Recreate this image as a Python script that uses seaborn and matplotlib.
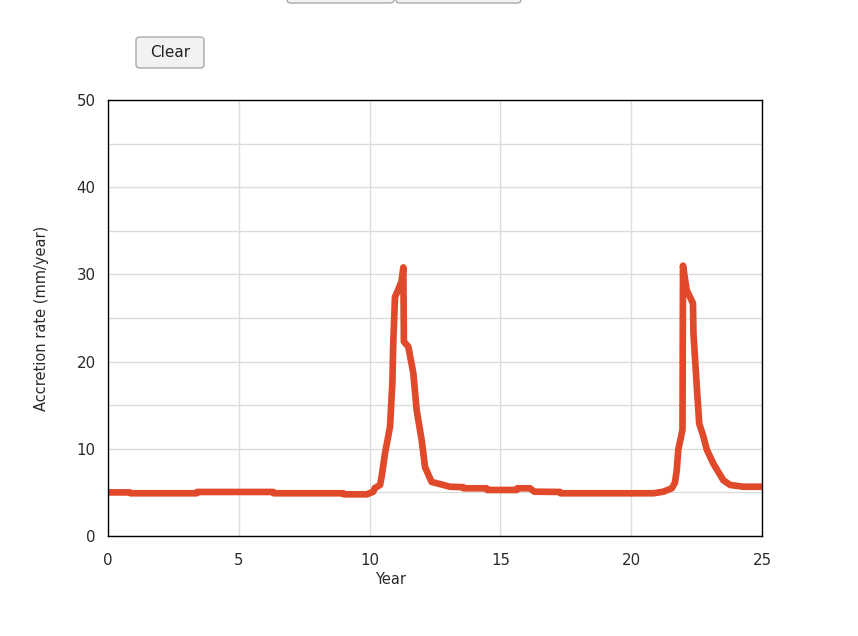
import matplotlib
matplotlib.use("Agg")
import matplotlib.pyplot as plt
from matplotlib.patches import FancyBboxPatch
import seaborn as sns
import pandas as pd

year = [0.0, 0.84, 0.86, 3.39, 3.41, 6.32, 6.34, 9.0, 9.02, 9.89, 10.14, 10.2,
        10.4, 10.46, 10.59, 10.78, 10.87, 10.9, 10.97, 11.1, 11.22, 11.29, 11.31,
        11.48, 11.67, 11.8, 11.99, 12.12, 12.37, 12.82, 13.07, 13.58, 13.6, 14.47,
        14.5, 15.62, 15.65, 16.13, 16.3, 17.28, 17.3, 20.85, 21.23, 21.55, 21.67,
        21.74, 21.8, 21.9, 21.96, 21.98, 22.12, 22.36, 22.38, 22.5, 22.6, 22.76,
        22.89, 23.14, 23.52, 23.78, 24.3, 24.92, 25.0]
rate = [5.0, 5.0, 4.9, 4.9, 5.05, 5.05, 4.9, 4.9, 4.78, 4.78, 5.08, 5.5,
        5.85, 6.8, 9.5, 12.5, 17.5, 21.7, 27.4, 28.3, 29.2, 30.8, 22.3,
        21.7, 18.7, 14.4, 11.0, 7.9, 6.2, 5.85, 5.65, 5.6, 5.47, 5.47,
        5.28, 5.28, 5.47, 5.47, 5.08, 5.05, 4.9, 4.9, 5.08, 5.47, 6.1,
        7.5, 9.9, 11.3, 12.2, 31.0, 28.2, 26.7, 23.2, 17.5, 12.9, 11.4,
        9.9, 8.3, 6.4, 5.85, 5.65, 5.65, 5.65]

x_ticks = [0, 5, 10, 15, 20, 25]
y_ticks = [0, 10, 20, 30, 40, 50]
y_grid = [5, 15, 25, 35, 45]

df = pd.DataFrame({"Year": year, "Rate": rate})

sns.set_theme(style="white")
plt.rcParams['font.family'] = ['DejaVu Sans']

fig = plt.figure(figsize=(8.58, 6.36), dpi=100)
ax = fig.add_axes([108/858, 100/636, 654/858, 436/636])

sns.lineplot(data=df, x="Year", y="Rate", ax=ax, color="#E0492A", linewidth=4.8,
             sort=False, solid_capstyle="round", solid_joinstyle="round")

ax.set_xlim(0, 25)
ax.set_ylim(0, 50)
ax.set_xticks(x_ticks)
ax.set_yticks(y_ticks)
ax.set_yticks(y_grid, minor=True)
ax.grid(True, which="both", color="#dcdcdc", linewidth=1)
ax.set_axisbelow(True)
ax.tick_params(axis="both", which="both", length=0, labelsize=10.8, colors="#2a2a2a")
ax.tick_params(axis="y", pad=9)
ax.tick_params(axis="x", pad=12)
for s in ax.spines.values():
    s.set_color("black")
    s.set_linewidth(1)
ax.set_xlabel("Year", fontsize=10.5, color="#2a2a2a", va="center")
ax.xaxis.set_label_coords((391 - 108) / 654, (536 - 580) / 436)
ax.set_ylabel("Accretion rate (mm/year)", fontsize=10.5, color="#2a2a2a", va="center")
ax.yaxis.set_label_coords((41 - 108) / 654, 0.5)

def button(x0, y0, x1, y1, text=None):
    w = (x1 - x0) / 858
    h = (y1 - y0) / 636
    p = FancyBboxPatch((x0/858, 1 - y1/636), w, h,
                       boxstyle="round,pad=0,rounding_size=0.005",
                       transform=fig.transFigure, facecolor="#f2f2f2",
                       edgecolor="#aaaaaa", linewidth=1)
    fig.patches.append(p)
    if text:
        fig.text((x0 + x1) / 2 / 858, 1 - (y0 + y1) / 2 / 636, text,
                 ha="center", va="center", fontsize=11, color="#222222")

button(136, 37, 204, 68, "Clear")
button(287, -10, 394, 3)
button(396, -10, 521, 3)

fig.savefig("out.png", dpi=100)
